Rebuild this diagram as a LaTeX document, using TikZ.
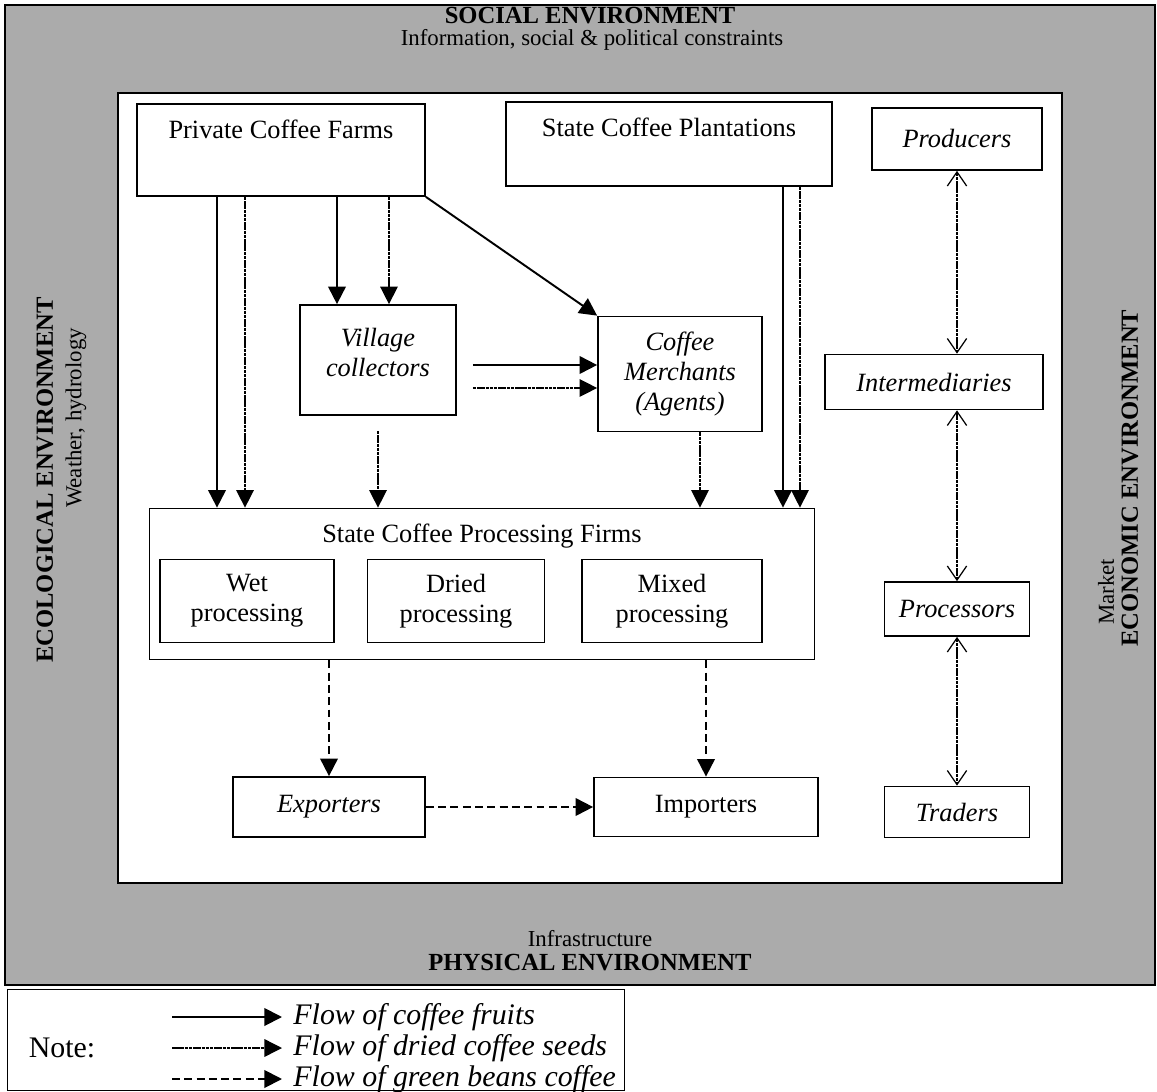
\documentclass[tikz,border=0pt]{standalone}
\usepackage{fontspec}
\setmainfont{Liberation Serif}
\usetikzlibrary{arrows.meta,positioning}

\begin{document}
\begin{tikzpicture}[x=0.02cm, y=-0.02cm, font=\fontsize{15}{17}\selectfont,
      box/.style={rectangle, draw, line width=1pt, fill=white, align=center, inner sep=2pt},
      ibox/.style={box, font=\fontsize{15}{17}\selectfont\itshape},
      fruit/.style={line width=1.1pt, -{Triangle[length=10pt,width=10pt]}},
      seed/.style={line width=0.8pt, dash pattern=on 2pt off 0.4pt, -{Triangle[length=10pt,width=10pt]}},
      bean/.style={line width=1.1pt, dash pattern=on 4.5pt off 2.5pt, -{Triangle[length=10pt,width=10pt]}},
      link/.style={line width=0.7pt, dash pattern=on 2pt off 0.4pt,
                   {Straight Barb[length=8pt,width=11pt]}-{Straight Barb[length=8pt,width=11pt]}},
      envhead/.style={inner sep=1pt, font=\fontsize{14}{16}\selectfont\bfseries},
      envtext/.style={inner sep=1pt, font=\fontsize{13}{15}\selectfont},
      legtext/.style={anchor=west, font=\fontsize{17}{19}\selectfont\itshape}]
    \useasboundingbox (0,0) rectangle (1157,1092);
    % surrounding environments
    \fill[black!33] (5,5) rectangle (1155,985);
    \draw[line width=0.8pt] (5,5) rectangle (1155,985);
    \node[envhead] (soc) at (590,16) {SOCIAL ENVIRONMENT};
    \node[envtext] (soci) at (592,40) {Information, social \& political constraints};
    \node[envtext] (phyi) at (590,939) {Infrastructure};
    \node[envhead] (phy) at (590,963) {PHYSICAL ENVIRONMENT};
    \node[envhead, rotate=90] (eco) at (45,480) {ECOLOGICAL ENVIRONMENT};
    \node[envtext, rotate=90] (ecoi) at (76,418) {Weather, hydrology};
    \node[envtext, rotate=90] (mkt) at (1106,592) {Market};
    \node[envhead, rotate=90] (ecn) at (1130,478) {ECONOMIC ENVIRONMENT};
    \node[box, minimum width=18.88cm, minimum height=15.8cm] (inner) at (590,488) {};

    % actors
    \node[box, minimum width=5.76cm, minimum height=1.84cm] (pcf) at (281,150) {};
    \node[below=6pt of pcf.north] (pcft) {Private Coffee Farms};
    \node[box, minimum width=6.52cm, minimum height=1.68cm] (scp) at (669,144) {};
    \node[below=6pt of scp.north] (scpt) {State Coffee Plantations};
    \node[ibox, minimum width=3.12cm, minimum height=2.2cm] (vc) at (378,360) {Village\\collectors\\[-8pt]\mbox{}};
    \node[ibox, minimum width=3.28cm, minimum height=2.3cm] (cm) at (680,374) {Coffee\\Merchants\\(Agents)};
    \node[box, minimum width=13.3cm, minimum height=3.02cm] (scpf) at (482,584) {};
    \node[below=6pt of scpf.north] (scpft) {State Coffee Processing Firms};
    \node[box, minimum width=3.48cm, minimum height=1.66cm] (wet) at (247,601) {Wet\\processing};
    \node[box, minimum width=3.54cm, minimum height=1.66cm] (dried) at (456,601) {Dried\\processing};
    \node[box, minimum width=3.6cm, minimum height=1.66cm] (mixed) at (672,601) {Mixed\\processing};
    \node[ibox, minimum width=3.84cm, minimum height=1.2cm] (exp) at (329,807) {Exporters};
    \node[box, minimum width=4.48cm, minimum height=1.18cm] (imp) at (706,807) {Importers};

    % market chain
    \node[ibox, minimum width=3.4cm, minimum height=1.24cm] (prod) at (957,139) {Producers};
    \node[ibox, minimum width=4.36cm, minimum height=1.1cm] (inter) at (934,382) {Intermediaries};
    \node[ibox, minimum width=2.9cm, minimum height=1.08cm] (proc) at (957,609) {Processors};
    \node[ibox, minimum width=2.9cm, minimum height=1.02cm] (trad) at (957,812) {Traders};

    % flows
    \coordinate (pf1) at ([xshift=-1.28cm]pcf.south);
    \coordinate (pf2) at ([xshift=-0.72cm]pcf.south);
    \coordinate (pf3) at ([xshift=1.12cm]pcf.south);
    \coordinate (pf4) at ([xshift=2.16cm]pcf.south);
    \coordinate (sp1) at ([xshift=2.28cm]scp.south);
    \coordinate (sp2) at ([xshift=2.62cm]scp.south);
    \coordinate (vc1) at ([shift={(0.32cm,-0.1cm)}]vc.east);
    \coordinate (vc2) at ([shift={(0.32cm,-0.56cm)}]vc.east);
    \coordinate (vc3) at ([yshift=-0.3cm]vc.south);
    \coordinate (cm1) at ([xshift=0.4cm]cm.south);
    \draw[fruit] (pf1) -- (pf1 |- scpf.north);
    \draw[seed] (pf2) -- (pf2 |- scpf.north);
    \draw[fruit] (pf3) -- (pf3 |- vc.north);
    \draw[seed] (pf4) -- (pf4 |- vc.north);
    \draw[fruit] (pcf.south east) -- (cm.north west);
    \draw[fruit] (vc1) -- (vc1 -| cm.west);
    \draw[seed] (vc2) -- (vc2 -| cm.west);
    \draw[seed] (vc3) -- (vc3 |- scpf.north);
    \draw[seed] (cm1) -- (cm1 |- scpf.north);
    \draw[fruit] (sp1) -- (sp1 |- scpf.north);
    \draw[seed] (sp2) -- (sp2 |- scpf.north);
    \draw[bean] (scpf.south -| exp.north) -- (exp.north);
    \draw[bean] (scpf.south -| imp.north) -- (imp.north);
    \draw[bean] (exp.east) -- (imp.west);
    \draw[link] (prod.south) -- (prod.south |- inter.north);
    \draw[link] (proc.north |- inter.south) -- (proc.north);
    \draw[link] (proc.south) -- (trad.north);

    % legend
    \node[box, minimum width=12.34cm, minimum height=2.02cm] (note) at (316,1040) {};
    \node[font=\fontsize{17}{19}\selectfont] (notel) at (62,1048) {Note:};
    \coordinate (l1a) at (172,1017); \coordinate (l1b) at (282,1017);
    \coordinate (l2a) at (172,1048); \coordinate (l2b) at (282,1048);
    \coordinate (l3a) at (172,1079); \coordinate (l3b) at (282,1079);
    \draw[fruit] (l1a) -- (l1b);
    \draw[seed] (l2a) -- (l2b);
    \draw[bean] (l3a) -- (l3b);
    \node[legtext, right=3pt of l1b] (lt1) {Flow of coffee fruits};
    \node[legtext, right=3pt of l2b] (lt2) {Flow of dried coffee seeds};
    \node[legtext, right=3pt of l3b] (lt3) {Flow of green beans coffee};
  \end{tikzpicture}
\end{document}
